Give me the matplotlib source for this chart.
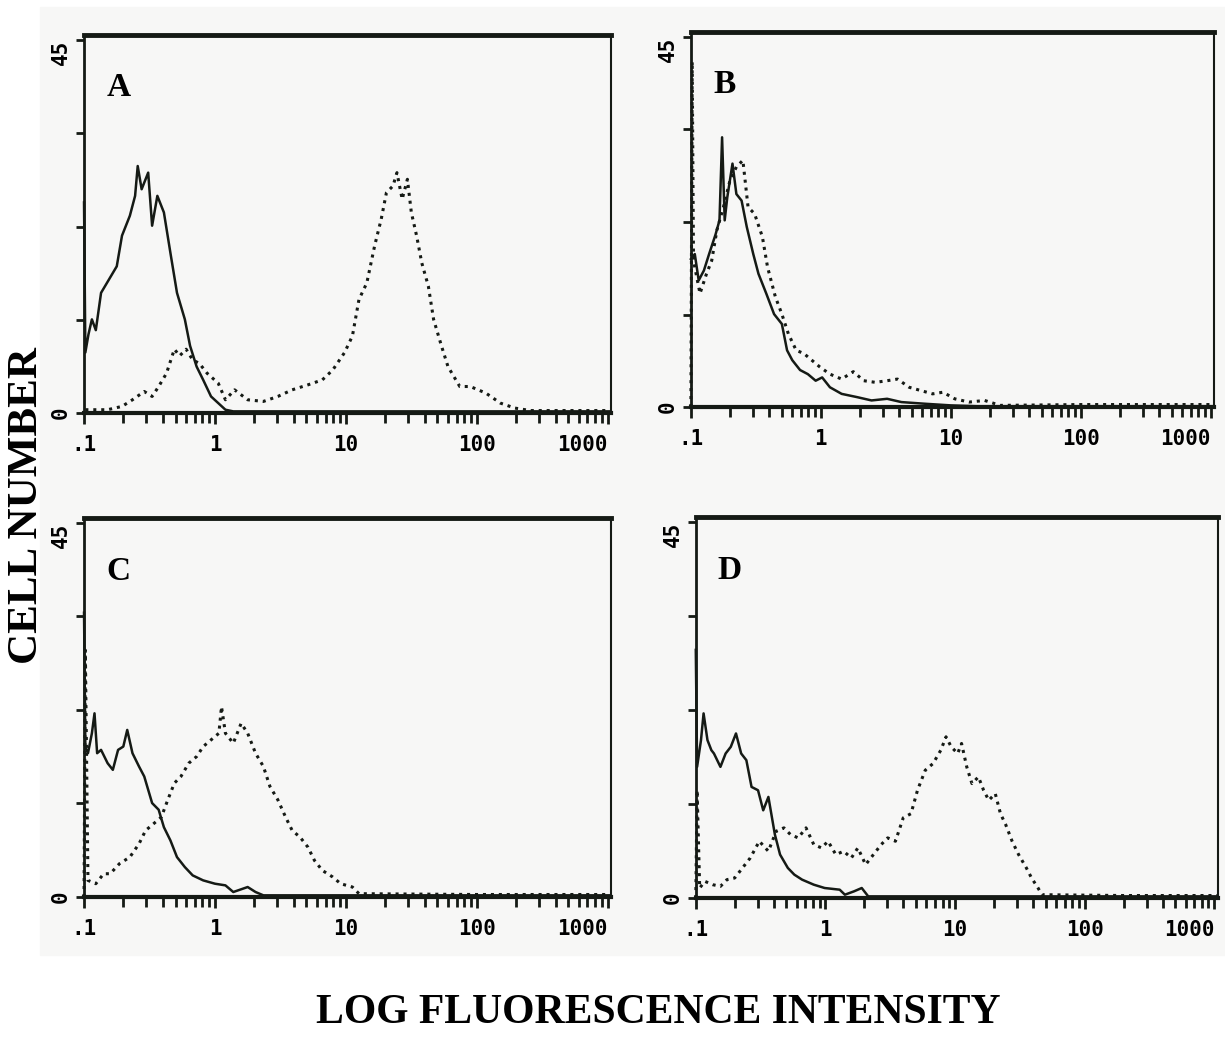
import numpy as np
import matplotlib.pyplot as plt
from matplotlib.patches import Rectangle

# histogram traces: x as log10(intensity), y as cell number
a_sol_log = [-1.0, -0.99, -0.966, -0.94, -0.91, -0.87, -0.81, -0.75, -0.71, -0.65, -0.61, -0.59, -0.56, -0.51, -0.48,
             -0.44, -0.39, -0.34, -0.29, -0.23, -0.19, -0.14, -0.09, -0.03, 0.025, 0.08, 0.14, 0.5, 1.0, 2.0, 3.02]
a_sol_val = [25.4, 7.3, 9.5, 11.3, 10.0, 14.5, 16.1, 17.7, 21.4, 23.8, 26.2, 29.8, 27.0, 29.0, 22.6,
             26.2, 24.2, 19.3, 14.5, 11.3, 8.1, 5.6, 4.0, 2.0, 1.2, 0.4, 0.2, 0.2, 0.2, 0.2, 0.2]
a_dot_log = [-0.99, -0.82, -0.71, -0.63, -0.54, -0.48, -0.43, -0.37, -0.31, -0.27, -0.22, -0.17, -0.12, -0.06, 0.025,
             0.08, 0.15, 0.25, 0.37, 0.48, 0.59, 0.71, 0.82, 0.9, 0.99, 1.05, 1.10, 1.16, 1.22, 1.27,
             1.31, 1.36, 1.39, 1.43, 1.47, 1.50, 1.54, 1.58, 1.63, 1.67, 1.73, 1.78, 1.87, 1.95, 2.07,
             2.18, 2.29, 2.41, 2.7, 3.02]
a_dot_val = [0.4, 0.4, 0.8, 1.6, 2.6, 2.0, 3.2, 4.8, 7.7, 6.9, 7.7, 6.4, 6.0, 4.8, 3.6,
             1.6, 2.8, 1.6, 1.4, 2.0, 2.8, 3.4, 4.0, 5.2, 7.3, 9.3, 13.7, 15.7, 20.2, 23.4,
             26.6, 27.4, 29.0, 25.8, 28.2, 24.2, 21.4, 18.1, 15.3, 11.3, 8.1, 5.6, 3.2, 3.2, 2.4,
             1.2, 0.6, 0.3, 0.3, 0.3]

b_sol_log = [-1.0, -0.97, -0.94, -0.90, -0.86, -0.81, -0.78, -0.76, -0.74, -0.72, -0.68, -0.65, -0.61, -0.57, -0.52,
             -0.48, -0.42, -0.36, -0.30, -0.26, -0.22, -0.16, -0.10, -0.04, 0.01, 0.07, 0.16, 0.28, 0.39, 0.51,
             0.62, 0.80, 1.0, 1.2, 3.02]
b_sol_val = [18.0, 18.6, 15.4, 16.6, 18.6, 21.0, 22.7, 32.8, 22.7, 25.5, 29.6, 25.9, 25.1, 21.9, 18.6,
             16.2, 13.8, 11.3, 10.1, 6.9, 5.7, 4.5, 4.0, 3.2, 3.6, 2.4, 1.6, 1.2, 0.8, 1.0,
             0.6, 0.4, 0.2, 0.1, 0.1]
b_dot_log = [-1.0, -0.99, -0.98, -0.93, -0.88, -0.84, -0.80, -0.75, -0.70, -0.65, -0.60, -0.56, -0.51, -0.45, -0.41,
             -0.35, -0.30, -0.25, -0.19, -0.13, -0.07, -0.01, 0.07, 0.16, 0.25, 0.33, 0.42, 0.51, 0.59, 0.68,
             0.77, 0.86, 0.94, 1.03, 1.14, 1.26, 1.38, 2.0, 3.02]
b_dot_val = [0.0, 42.0, 17.8, 13.8, 16.2, 17.8, 21.5, 24.3, 27.5, 29.2, 30.0, 24.3, 23.5, 20.7, 17.0,
             13.4, 11.3, 8.9, 6.9, 6.5, 5.7, 4.9, 4.0, 3.4, 4.3, 3.2, 3.0, 3.2, 3.4, 2.4,
             2.0, 1.6, 1.8, 1.0, 0.6, 0.8, 0.2, 0.3, 0.3]

c_sol_log = [-1.0, -0.99, -0.97, -0.94, -0.92, -0.90, -0.87, -0.82, -0.78, -0.74, -0.70, -0.67, -0.63, -0.58, -0.54,
             -0.48, -0.43, -0.39, -0.34, -0.29, -0.23, -0.17, -0.09, 0.0, 0.08, 0.14, 0.25, 0.31, 0.37, 1.0, 3.02]
c_sol_val = [34.2, 18.0, 17.3, 19.7, 22.1, 17.3, 17.7, 16.1, 15.3, 17.7, 18.1, 20.1, 17.3, 15.7, 14.5,
             11.3, 10.5, 8.4, 6.8, 4.8, 3.6, 2.6, 2.0, 1.6, 1.4, 0.6, 1.2, 0.6, 0.2, 0.2, 0.2]
c_dot_log = [-1.0, -0.99, -0.97, -0.91, -0.85, -0.80, -0.73, -0.65, -0.58, -0.53, -0.47, -0.41, -0.36, -0.31, -0.26,
             -0.20, -0.14, -0.09, -0.03, 0.03, 0.05, 0.08, 0.14, 0.20, 0.25, 0.31, 0.37, 0.42, 0.48, 0.54,
             0.59, 0.65, 0.71, 0.76, 0.82, 0.90, 0.96, 1.05, 1.10, 2.0, 3.02]
c_dot_val = [0.0, 29.7, 2.0, 1.6, 2.8, 2.8, 4.0, 4.8, 6.4, 8.0, 8.8, 9.6, 11.7, 13.7, 14.5,
             16.1, 16.9, 18.1, 18.9, 19.7, 22.9, 19.7, 18.5, 20.9, 19.7, 17.3, 15.7, 13.3, 11.7, 9.6,
             8.0, 7.2, 6.0, 4.4, 3.2, 2.4, 1.6, 1.2, 0.4, 0.3, 0.3]

d_sol_log = [-1.0, -0.99, -0.96, -0.94, -0.91, -0.88, -0.86, -0.81, -0.77, -0.73, -0.69, -0.65, -0.61, -0.57, -0.52,
             -0.48, -0.44, -0.39, -0.35, -0.29, -0.24, -0.18, -0.09, -0.006, 0.11, 0.15, 0.22, 0.28, 0.33, 1.0, 3.02]
d_sol_val = [29.7, 15.7, 18.9, 22.1, 18.9, 17.7, 17.3, 15.7, 17.3, 18.1, 19.7, 17.3, 16.5, 13.3, 12.9,
             10.5, 12.1, 7.6, 5.2, 3.6, 2.8, 2.2, 1.6, 1.2, 1.0, 0.4, 0.8, 1.2, 0.2, 0.2, 0.2]
d_dot_log = [-1.0, -0.99, -0.97, -0.93, -0.87, -0.81, -0.76, -0.70, -0.64, -0.58, -0.51, -0.44, -0.38, -0.32, -0.27,
             -0.21, -0.15, -0.09, -0.03, 0.02, 0.08, 0.14, 0.20, 0.25, 0.31, 0.37, 0.43, 0.48, 0.54, 0.60,
             0.66, 0.71, 0.77, 0.83, 0.89, 0.93, 0.97, 1.02, 1.05, 1.09, 1.13, 1.18, 1.22, 1.26, 1.31,
             1.35, 1.39, 1.44, 1.49, 1.55, 1.59, 1.64, 1.67, 2.3, 3.02]
d_dot_val = [0.0, 12.9, 1.2, 2.0, 1.6, 1.4, 2.2, 2.4, 3.6, 4.8, 6.8, 5.6, 8.0, 8.4, 7.6,
             7.2, 8.4, 6.4, 6.0, 6.8, 5.2, 5.6, 4.8, 6.0, 4.0, 5.2, 6.4, 7.2, 6.8, 9.6,
             10.1, 12.9, 15.3, 16.1, 17.7, 19.3, 18.1, 17.3, 18.5, 15.7, 13.7, 14.5, 12.9, 11.7, 12.5,
             10.1, 8.8, 6.8, 5.2, 3.6, 2.4, 1.2, 0.4, 0.3, 0.3]

panel_names = ["A", "B", "C", "D"]
x_ticks = [0.1, 1, 10, 100, 1000]
x_tick_labels = [".1", "1", "10", "100", "1000"]
y_ticks = [0, 11.25, 22.5, 33.75, 45]

ink = "#151a15"
mono = dict(fontfamily="DejaVu Sans Mono", fontweight="bold", fontsize=15)

fig = plt.figure(figsize=(12.25, 10.37), dpi=100)
# scanned page tone
fig.patches.append(Rectangle((40 / 1225, 1 - 955 / 1037), 1185 / 1225, 948 / 1037,
                             transform=fig.transFigure, color="#f7f7f6", zorder=-10))

boxes = [[0.0686, 0.6017, 0.4302, 0.3645],
         [0.564, 0.6075, 0.427, 0.3616],
         [0.0686, 0.135, 0.4302, 0.3655],
         [0.568, 0.134, 0.426, 0.3674]]
traces = [(a_sol_log, a_sol_val, a_dot_log, a_dot_val),
          (b_sol_log, b_sol_val, b_dot_log, b_dot_val),
          (c_sol_log, c_sol_val, c_dot_log, c_dot_val),
          (d_sol_log, d_sol_val, d_dot_log, d_dot_val)]

for box, name, (sl, sv, dl, dv) in zip(boxes, panel_names, traces):
    ax = fig.add_axes(box)
    ax.set_facecolor("none")
    ax.plot(10 ** np.array(sl), sv, color=ink, lw=1.8, clip_on=False)
    ax.plot(10 ** np.array(dl), dv, color=ink, lw=2.2, linestyle=(0, (1, 1.6)), clip_on=False)

    ax.set_xscale("log")
    ax.set_xlim(0.1, 1060)
    ax.set_ylim(0, 45.6)

    ax.set_xticks(x_ticks)
    ax.set_xticklabels(x_tick_labels, **mono)
    ax.get_xticklabels()[-1].set_ha("right")
    ax.xaxis.set_minor_locator(plt.matplotlib.ticker.LogLocator(base=10, subs=np.arange(2, 10)))
    ax.xaxis.set_minor_formatter(plt.NullFormatter())
    ax.tick_params(axis="x", which="major", direction="out", length=8, width=2, color=ink, pad=8)
    ax.tick_params(axis="x", which="minor", direction="out", length=7, width=2, color=ink)

    ax.set_yticks(y_ticks)
    ax.set_yticklabels([])
    ax.tick_params(axis="y", direction="out", length=6, width=2, color=ink)
    ax.text(-0.044, 45, "45", transform=ax.get_yaxis_transform(), rotation=90,
            ha="center", va="top", **mono)
    ax.text(-0.044, 0, "0", transform=ax.get_yaxis_transform(), rotation=90,
            ha="center", va="center", **mono)

    for side, lw in [("bottom", 3), ("top", 3.5), ("left", 2), ("right", 1.5)]:
        ax.spines[side].set_linewidth(lw)
        ax.spines[side].set_color(ink)

    ax.text(0.065, 0.86, name, transform=ax.transAxes, ha="center", va="center",
            fontfamily="Liberation Serif", fontweight="bold", fontsize=24)

fig.text(0.022, 0.513, "CELL NUMBER", rotation=90, ha="center", va="center",
         fontfamily="Liberation Serif", fontweight="bold", fontsize=31)
fig.text(0.537, 0.023, "LOG FLUORESCENCE INTENSITY", ha="center", va="center",
         fontfamily="Liberation Serif", fontweight="bold", fontsize=30)

fig.savefig("out.png", dpi=100)
